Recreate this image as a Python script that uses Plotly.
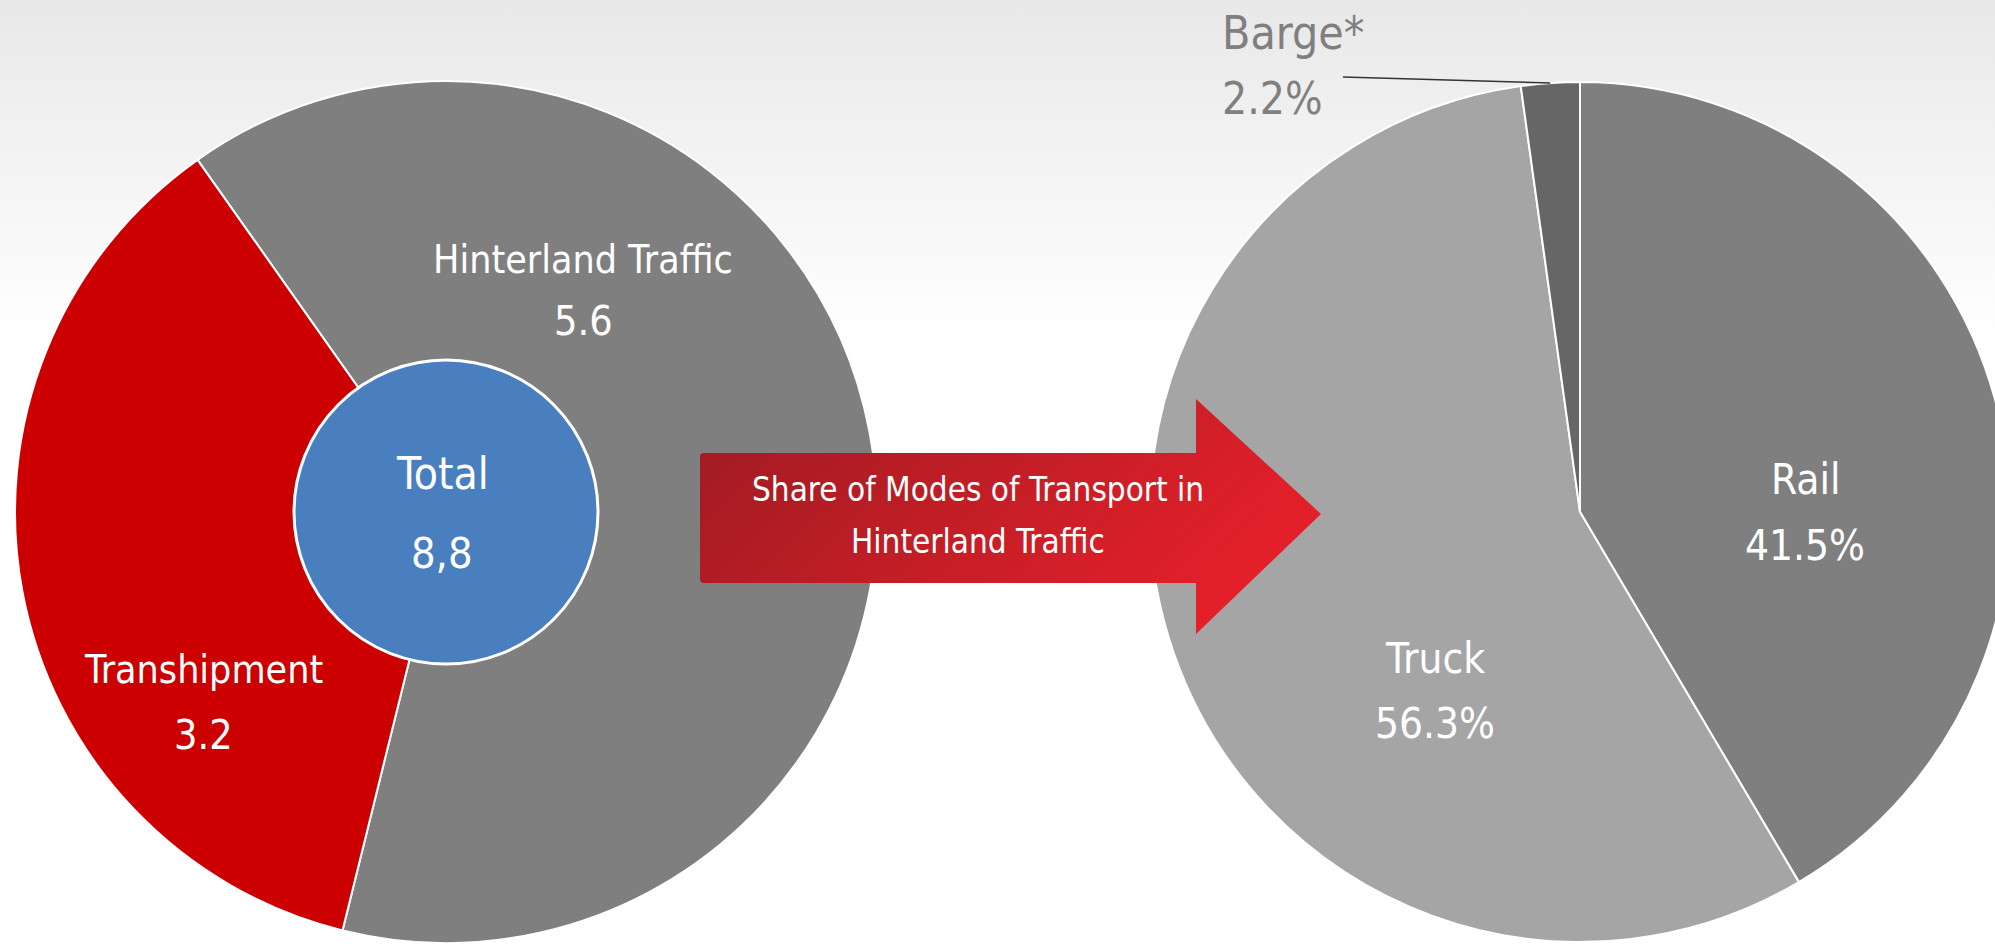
import base64, math
import plotly.graph_objects as go

# ---------------- data ----------------
left_labels = ["Hinterland Traffic", "Transhipment"]
left_values = [5.6, 3.2]
left_colors = ["#7F7F7F", "#CC0000"]

total_label = "Total"
total_value = round(sum(left_values), 1)

right_labels = ["Rail", "Truck", "Barge*"]
right_values = [41.5, 56.3, 2.2]
right_colors = ["#7F7F7F", "#A5A5A5", "#666666"]

arrow_text = ["Share of Modes of Transport in", "Hinterland Traffic"]

# ---------------- layout helpers ----------------
W, H = 2025, 944
FONT = "'DejaVu Sans Condensed', 'Liberation Sans Narrow', sans-serif"

def px(x):
    return x / W

def py(y):
    return 1 - y / H

def dom(cx, cy, r):
    return dict(x=[px(cx - r), px(cx + r)], y=[py(cy + r), py(cy - r)])

L_CX, L_CY, L_R = 446, 512, 431
R_CX, R_CY, R_R = 1580, 512, 430
T_R = 152

fig = go.Figure()

fig.add_trace(go.Pie(
    labels=left_labels, values=left_values, sort=False, direction="clockwise",
    rotation=-35.2, marker=dict(colors=left_colors, line=dict(color="white", width=2)),
    textinfo="none", hoverinfo="label+value", domain=dom(L_CX, L_CY, L_R), showlegend=False,
))
fig.add_trace(go.Pie(
    labels=[total_label], values=[total_value], sort=False,
    marker=dict(colors=["#4A7FBF"], line=dict(color="white", width=3)),
    textinfo="none", hoverinfo="label+value", domain=dom(L_CX, L_CY, T_R), showlegend=False,
))
fig.add_trace(go.Pie(
    labels=right_labels, values=right_values, sort=False, direction="clockwise",
    rotation=0, marker=dict(colors=right_colors, line=dict(color="white", width=2)),
    textinfo="none", hoverinfo="label+percent", domain=dom(R_CX, R_CY, R_R), showlegend=False,
))

annotations = []

def add_text(text, x, y, size, color="white", xanchor="center"):
    annotations.append(dict(
        text=text, x=px(x), y=py(y), xref="paper", yref="paper",
        xanchor=xanchor, yanchor="middle", showarrow=False,
        font=dict(family=FONT, size=size, color=color),
    ))

def fmt(v):
    return f"{v:.1f}"

# left pie labels
left_pos = [(583, 259, 321), (203, 669, 735)]
for lab, val, (x, y1, y2) in zip(left_labels, left_values, left_pos):
    add_text(lab, x, y1, 39)
    add_text(fmt(val), x, y2, 41)

# total
add_text(total_label, 442, 473, 44)
add_text(fmt(total_value).replace(".", ","), 442, 553, 43)

# right pie labels
right_pos = [(1805, 479, 545, "center", "white", 42, 42),
             (1435, 658, 723, "center", "white", 42, 42),
             (1220, 33, 98, "left", "#7F7F7F", 46, 44)]
for lab, val, (x, y1, y2, anc, col, s1, s2) in zip(right_labels, right_values, right_pos):
    add_text(lab, x, y1, s1, col, anc)
    add_text(fmt(val) + "%", x, y2, s2, col, anc)

# arrow text
add_text(arrow_text[0], 978, 489, 33)
add_text(arrow_text[1], 978, 541, 33)

# barge leader line to mid-angle of barge slice
tot = sum(right_values)
mid = 360 * (sum(right_values[:2]) + right_values[2] / 2) / tot
ex = R_CX + R_R * math.sin(math.radians(mid))
ey = R_CY - R_R * math.cos(math.radians(mid))
shapes = [dict(type="line", xref="paper", yref="paper", x0=px(1343), y0=py(77),
               x1=px(ex), y1=py(ey), line=dict(color="#333333", width=1.5))]

# background gradient
bg_svg = ('<svg xmlns="http://www.w3.org/2000/svg" width="100" height="100" viewBox="0 0 100 100" '
          'preserveAspectRatio="none"><defs><linearGradient id="g" x1="0" y1="0" x2="0" y2="1">'
          '<stop offset="0" stop-color="#E8E8E8"/><stop offset="0.12" stop-color="#F0F0F0"/>'
          '<stop offset="0.36" stop-color="#FFFFFF"/><stop offset="1" stop-color="#FFFFFF"/>'
          '</linearGradient></defs><rect width="100" height="100" fill="url(#g)"/></svg>')

# arrow
AX0, AY0, AW, AH = 699, 397, 624, 239
arrow_svg = ('<svg xmlns="http://www.w3.org/2000/svg" width="624" height="239" viewBox="0 0 624 239" '
             'preserveAspectRatio="none"><defs><linearGradient id="a" x1="0" y1="0" x2="1" y2="0.4">'
             '<stop offset="0" stop-color="#9E1B22"/><stop offset="1" stop-color="#E3202A"/>'
             '</linearGradient></defs>'
             '<path d="M5,56 H497 V2 L622,117 L497,237 V186 H5 Q1,186 1,182 V60 Q1,56 5,56 Z" fill="url(#a)"/></svg>')

def uri(svg):
    return "data:image/svg+xml;base64," + base64.b64encode(svg.encode()).decode()

images = [
    dict(source=uri(bg_svg), xref="paper", yref="paper", x=0, y=1, sizex=px(1995), sizey=1,
         xanchor="left", yanchor="top", sizing="stretch", layer="below"),
    dict(source=uri(arrow_svg), xref="paper", yref="paper", x=px(AX0), y=py(AY0),
         sizex=AW / W, sizey=AH / H, xanchor="left", yanchor="top", sizing="stretch", layer="above"),
]

fig.update_layout(
    width=W, height=H, margin=dict(l=0, r=0, t=0, b=0, pad=0),
    paper_bgcolor="white", plot_bgcolor="white",
    annotations=annotations, shapes=shapes, images=images,
    font=dict(family=FONT),
)

fig.write_html(
    "out.html",
    config={"displayModeBar": False},
    post_script="document.body.style.margin='0';document.body.style.overflow='hidden';"
                "document.documentElement.style.overflow='hidden';",
)
